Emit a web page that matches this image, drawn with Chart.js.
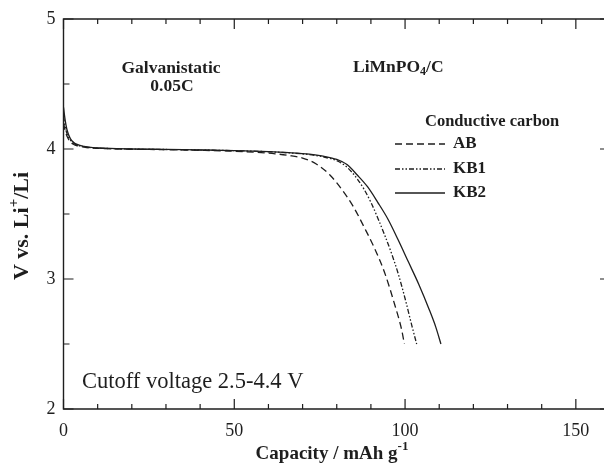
<!DOCTYPE html>
<html>
<head>
<meta charset="utf-8">
<title>LiMnPO4/C discharge curves</title>
<script src="https://cdn.jsdelivr.net/npm/chart.js@4.4.1/dist/chart.umd.min.js"></script>
<style>
    html, body { margin: 0; padding: 0; background: #fff; overflow: hidden; }
    #chartBox { width: 604px; height: 467px; overflow: hidden; }
    canvas { display: block; }
</style>
</head>
<body>
<div id="chartBox"><canvas id="dischargeChart" width="612" height="467"></canvas></div>
<script>
// Discharge curves (capacity in mAh/g, voltage in V)
const abCapacity = [0, 0.5, 1, 2, 3, 4, 6, 8, 12, 20, 30, 40, 50, 56, 62, 66, 70, 74, 78, 82, 85, 88, 91, 94, 97, 99, 99.8];
const abVoltage = [4.2, 4.14, 4.1, 4.055, 4.035, 4.025, 4.015, 4.008, 4.003, 3.998, 3.995, 3.99, 3.983, 3.975, 3.963, 3.95, 3.93, 3.885, 3.80, 3.67, 3.55, 3.40, 3.24, 3.05, 2.80, 2.61, 2.5];

const kb1Capacity = [0, 0.5, 1, 2, 3, 4, 6, 8, 12, 20, 30, 40, 50, 60, 66, 72, 76, 80, 83, 86, 88, 90, 92, 94, 96, 98, 100, 102, 103.4];
const kb1Voltage = [4.25, 4.17, 4.12, 4.07, 4.045, 4.03, 4.018, 4.01, 4.005, 3.999, 3.996, 3.992, 3.987, 3.979, 3.97, 3.957, 3.94, 3.91, 3.86, 3.77, 3.69, 3.59, 3.47, 3.34, 3.20, 3.04, 2.85, 2.64, 2.5];

const kb2Capacity = [0, 0.5, 1, 2, 3, 4, 6, 8, 12, 20, 30, 40, 50, 60, 66, 72, 76, 80, 83, 86, 89, 92, 95, 98, 101, 104, 107, 109, 110.5];
const kb2Voltage = [4.32, 4.22, 4.15, 4.08, 4.05, 4.035, 4.02, 4.012, 4.006, 4.0, 3.997, 3.993, 3.988, 3.98, 3.972, 3.96, 3.945, 3.92, 3.88, 3.80, 3.71, 3.59, 3.46, 3.30, 3.13, 2.96, 2.77, 2.63, 2.5];

const seriesNames = ['AB', 'KB1', 'KB2'];

// Axis ticks
const xMajorTicks = [0, 50, 100, 150];
const xMinorTicks = [10, 20, 30, 40, 60, 70, 80, 90, 110, 120, 130, 140];
const yMajorTicks = [2, 3, 4, 5];
const yMinorTicks = [2.5, 3.5, 4.5];

const INK = '#1e1e1e';
const SERIF = '"Liberation Serif", "Times New Roman", serif';

function toPoints(xs, ys) {
    return xs.map((x, i) => ({ x: x, y: ys[i] }));
}

// Draws text made of normal / superscript / subscript pieces
function drawRich(ctx, parts, x, y, size, bold, align) {
    const base = (bold ? 'bold ' : '') + size + 'px ' + SERIF;
    const small = (bold ? 'bold ' : '') + Math.round(size * 0.68) + 'px ' + SERIF;
    let total = 0;
    parts.forEach(p => {
        ctx.font = p.s ? small : base;
        total += ctx.measureText(p.t).width;
    });
    let cx = x;
    if (align === 'center') cx = x - total / 2;
    else if (align === 'right') cx = x - total;
    ctx.textAlign = 'left';
    ctx.textBaseline = 'middle';
    parts.forEach(p => {
        ctx.font = p.s ? small : base;
        let dy = 0;
        if (p.s === 'sup') dy = -size * 0.38;
        if (p.s === 'sub') dy = size * 0.3;
        ctx.fillText(p.t, cx, y + dy);
        cx += ctx.measureText(p.t).width;
    });
}

// Frame, inward ticks, titles, notes and legend
const decorations = {
    id: 'decorations',
    afterDraw(chart) {
        const ctx = chart.ctx;
        const xs = chart.scales.x;
        const ys = chart.scales.y;
        const a = chart.chartArea;
        ctx.save();
        ctx.strokeStyle = INK;
        ctx.fillStyle = INK;
        ctx.lineWidth = 1.4;
        ctx.setLineDash([]);

        ctx.beginPath();
        ctx.moveTo(a.left, a.top);
        ctx.lineTo(a.right, a.top);
        ctx.lineTo(a.right, a.bottom);
        ctx.lineTo(a.left, a.bottom);
        ctx.closePath();
        ctx.stroke();

        ctx.lineWidth = 1.2;
        ctx.beginPath();
        const xTick = (v, len) => {
            const px = xs.getPixelForValue(v);
            ctx.moveTo(px, a.bottom);
            ctx.lineTo(px, a.bottom - len);
            ctx.moveTo(px, a.top);
            ctx.lineTo(px, a.top + len);
        };
        const yTick = (v, len) => {
            const py = ys.getPixelForValue(v);
            ctx.moveTo(a.left, py);
            ctx.lineTo(a.left + len, py);
            ctx.moveTo(a.right, py);
            ctx.lineTo(a.right - len, py);
        };
        xMajorTicks.forEach(v => xTick(v, 10));
        xMinorTicks.forEach(v => xTick(v, 5));
        yMajorTicks.forEach(v => yTick(v, 10));
        yMinorTicks.forEach(v => yTick(v, 6));
        ctx.stroke();

        // Axis titles
        drawRich(ctx, [{ t: 'Capacity / mAh g' }, { t: '-1', s: 'sup' }], 332, 454, 19, true, 'center');
        ctx.save();
        ctx.translate(22, 226);
        ctx.rotate(-Math.PI / 2);
        drawRich(ctx, [{ t: 'V vs. Li' }, { t: '+', s: 'sup' }, { t: '/Li' }], 0, 0, 22, true, 'center');
        ctx.restore();

        // Notes
        drawRich(ctx, [{ t: 'Galvanistatic' }], 171, 68, 17.5, true, 'center');
        drawRich(ctx, [{ t: '0.05C' }], 172, 86, 17.5, true, 'center');
        drawRich(ctx, [{ t: 'LiMnPO' }, { t: '4', s: 'sub' }, { t: '/C' }], 353, 67, 17.5, true, 'left');
        drawRich(ctx, [{ t: 'Conductive carbon' }], 425, 122, 16.5, true, 'left');
        drawRich(ctx, [{ t: 'Cutoff voltage 2.5-4.4 V' }], 82, 382, 22.5, false, 'left');

        // Legend
        const rows = [144, 169, 193];
        chart.data.datasets.forEach((ds, i) => {
            ctx.lineWidth = ds.borderWidth;
            ctx.setLineDash(ds.borderDash || []);
            ctx.beginPath();
            ctx.moveTo(395, rows[i]);
            ctx.lineTo(445, rows[i]);
            ctx.stroke();
            ctx.setLineDash([]);
            drawRich(ctx, [{ t: ds.label }], 453, rows[i], 17, true, 'left');
        });
        ctx.restore();
    }
};

function initChart() {
    const ctx = document.getElementById('dischargeChart').getContext('2d');
    const common = {
        borderColor: INK,
        borderWidth: 1.3,
        pointRadius: 0,
        fill: false,
        showLine: true,
        cubicInterpolationMode: 'monotone'
    };
    new Chart(ctx, {
        type: 'scatter',
        data: {
            datasets: [
                Object.assign({ label: seriesNames[0], data: toPoints(abCapacity, abVoltage), borderDash: [7, 4] }, common),
                Object.assign({ label: seriesNames[1], data: toPoints(kb1Capacity, kb1Voltage), borderDash: [5, 2, 1.5, 2, 1.5, 2] }, common),
                Object.assign({ label: seriesNames[2], data: toPoints(kb2Capacity, kb2Voltage), borderDash: [] }, common)
            ]
        },
        options: {
            responsive: false,
            animation: false,
            devicePixelRatio: 1,
            layout: { padding: { top: 19, right: 2, left: 0, bottom: 0 } },
            plugins: {
                legend: { display: false },
                tooltip: { enabled: false }
            },
            scales: {
                x: {
                    type: 'linear',
                    min: 0,
                    max: 160,
                    afterBuildTicks: s => { s.ticks = xMajorTicks.map(v => ({ value: v })); },
                    afterFit: s => { s.height = 58; },
                    grid: { display: false, drawTicks: false },
                    border: { display: false },
                    ticks: {
                        color: INK,
                        padding: 11,
                        maxRotation: 0,
                        font: { family: SERIF, size: 18 }
                    }
                },
                y: {
                    type: 'linear',
                    min: 2,
                    max: 5,
                    afterBuildTicks: s => { s.ticks = yMajorTicks.map(v => ({ value: v })); },
                    afterFit: s => { s.width = 63.5; },
                    grid: { display: false, drawTicks: false },
                    border: { display: false },
                    ticks: {
                        color: INK,
                        padding: 8,
                        font: { family: SERIF, size: 18 }
                    }
                }
            }
        },
        plugins: [decorations]
    });
}

document.addEventListener('DOMContentLoaded', initChart);
</script>
</body>
</html>
